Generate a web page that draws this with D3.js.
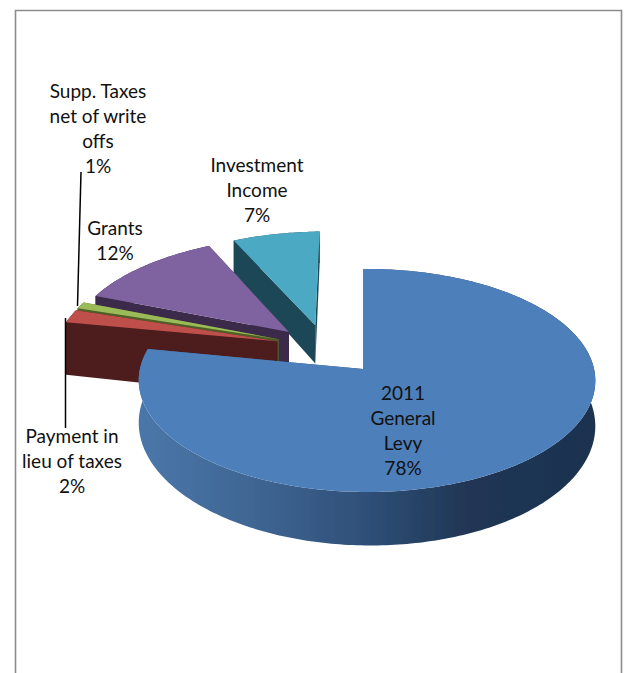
<!DOCTYPE html>
<html>
<head>
<meta charset="utf-8">
<script src="https://cdn.jsdelivr.net/npm/d3@7/dist/d3.min.js"></script>
<style>
html,body{margin:0;padding:0;background:#fff;}
svg{display:block;}
text{font-family:Lato,"Open Sans",sans-serif;font-size:19px;fill:#111;text-anchor:middle;}
</style>
</head>
<body>
<script>
const categories = ["2011 General Levy","Payment in lieu of taxes","Supp. Taxes net of write offs","Grants","Investment Income"];
const values = [78,2,1,12,7];
const labelLines = [["2011","General","Levy","78%"],["Payment in","lieu of taxes","2%"],["Supp. Taxes","net of write","offs","1%"],["Grants","12%"],["Investment","Income","7%"]];
const topColors = ["#4e7fbb","#bf504c","#9bbb59","#7f62a0","#4ba9c4"];
const sideColors = [null,"#4e1f1d","#4f6128","#3a2a4a","#1f4756"];
const explodeU = [0,-0.39,-0.385,-0.34,-0.22];
const explodeV = [0,-0.26,-0.28,-0.35,-0.415];
const radii = [1,1.03,1.03,1.025,1.02];
const depths = [43,60,60,40,42];
const drawOrder = [4,3,2,1,0];
const labelX = [403,72,98,115,257];
const labelY = [393,436,91,228,165];
const leaders = [[[81,172],[77.5,306]],[[65.5,318],[65.5,428]]];

const W=627,H=673, apexX=363, apexY=369;
const a=110.3,b=0.103,c=227,d=0.0175;
function project(u,v,depth){
  const w=1-b*v-d*u;
  return [apexX+c*u/w, apexY+a*v/w+(depth||0)/(w*w)];
}
const svg=d3.select("body").append("svg").attr("width",W).attr("height",H);
const defs=svg.append("defs");
const grad=defs.append("linearGradient").attr("id","blueSide").attr("gradientUnits","userSpaceOnUse")
  .attr("x1",138).attr("x2",596).attr("y1",0).attr("y2",0);
[[0,"#4a77aa"],[0.25,"#3f6693"],[0.5,"#2f4f78"],[0.72,"#203654"],[1,"#1d3250"]].forEach(s=>grad.append("stop").attr("offset",s[0]).attr("stop-color",s[1]));
const blur=defs.append("filter").attr("id","soft").attr("x","-5%").attr("y","-5%").attr("width","110%").attr("height","110%");
blur.append("feGaussianBlur").attr("stdDeviation",0.5);

svg.append("path").attr("d",`M15.5,${H}V10.5H621.5V${H}`).attr("fill","none").attr("stroke","#8c8c8c").attr("stroke-width",1.6);

const arcs=d3.pie().sort(null).startAngle(0).endAngle(2*Math.PI)(values);
const line=d3.line();
const g=svg.append("g").attr("filter","url(#soft)");

function slicePts(i,depth){
  const s=arcs[i],n=Math.max(8,Math.round((s.endAngle-s.startAngle)*60));
  return d3.range(n+1).map(k=>{
    const t=s.startAngle+(s.endAngle-s.startAngle)*k/n;
    return project(explodeU[i]+radii[i]*Math.sin(t),explodeV[i]-radii[i]*Math.cos(t),depth);
  });
}
drawOrder.forEach(i=>{
  const ap0=project(explodeU[i],explodeV[i],0), ap1=project(explodeU[i],explodeV[i],depths[i]);
  const top=slicePts(i,0), bot=slicePts(i,depths[i]);
  const fill=sideColors[i]||"url(#blueSide)";
  g.append("path").attr("d",line(top.concat(bot.slice().reverse()))+"Z").attr("fill",fill);
  [[top[0],bot[0]],[top[top.length-1],bot[bot.length-1]]].forEach(e=>{
    g.append("path").attr("d",line([e[0],ap0,ap1,e[1]])+"Z").attr("fill",fill);
  });
  g.append("path").attr("d",line([ap0].concat(top))+"Z").attr("fill",topColors[i]);
});

leaders.forEach(l=>svg.append("path").attr("d",line(l)).attr("fill","none").attr("stroke","#000").attr("stroke-width",1.5));

labelLines.forEach((lines,i)=>{
  lines.forEach((t,k)=>{
    svg.append("text").attr("x",labelX[i]).attr("y",labelY[i]+k*25).attr("dy","0.35em").text(t);
  });
});
</script>
</body>
</html>
